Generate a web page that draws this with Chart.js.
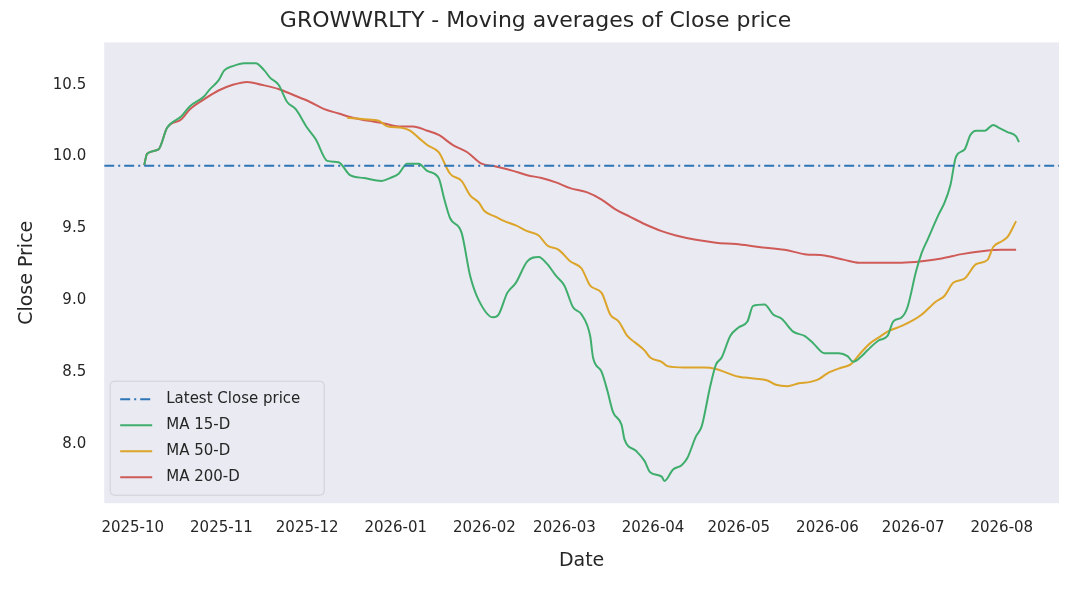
<!DOCTYPE html>
<html>
<head>
<meta charset="utf-8">
<script src="https://cdn.jsdelivr.net/npm/chart.js@4"></script>
<style>
  html, body { margin: 0; padding: 0; background: #fff; }
  #wrap { width: 1071px; height: 592px; }
</style>
</head>
<body>
<div id="wrap"><canvas id="c"></canvas></div>
<script>
// x values are days since 2025-10-01
const monthTicks = [0, 31, 61, 92, 123, 151, 182, 212, 243, 273, 304]
const monthLabels = ['2025-10', '2025-11', '2025-12', '2026-01', '2026-02', '2026-03',
  '2026-04', '2026-05', '2026-06', '2026-07', '2026-08']

const latestClose = 9.935

const ma15Days = [4,5,9,12,17,20,25,27,30,32,35,39,43,46,48,51,54,57,61,64,68,72,76,81,87,90,93,96,100,103,107,109,111,115,118,121,126,128,131,134,138,142,145,148,151,154,157,160,161,164,166,168,171,172,176,179,181,185,186,189,192,194,197,199,202,204,206,209,212,215,217,221,224,227,231,235,238,242,247,250,252,255,257,261,264,266,269,271,274,276,278,282,284,286,288,291,293,295,298,301,303,306,309,310]
const ma15Vals = [9.94,10.02,10.05,10.2,10.28,10.35,10.42,10.47,10.53,10.6,10.63,10.65,10.65,10.6,10.55,10.5,10.38,10.33,10.2,10.12,9.97,9.96,9.87,9.85,9.83,9.85,9.88,9.95,9.95,9.9,9.85,9.7,9.57,9.47,9.17,9.0,8.88,8.9,9.05,9.12,9.27,9.3,9.25,9.17,9.1,8.95,8.9,8.75,8.6,8.5,8.37,8.22,8.13,8.03,7.95,7.88,7.8,7.77,7.74,7.82,7.85,7.9,8.05,8.12,8.4,8.55,8.6,8.75,8.81,8.85,8.96,8.97,8.9,8.87,8.78,8.75,8.7,8.63,8.63,8.61,8.57,8.61,8.65,8.72,8.75,8.85,8.88,8.95,9.2,9.33,9.42,9.6,9.68,9.8,10.0,10.05,10.15,10.18,10.18,10.22,10.2,10.17,10.14,10.1]

const ma50Days = [75,81,86,89,94,97,100,103,107,111,115,118,121,123,127,130,134,138,142,145,149,153,157,160,164,167,170,173,176,179,181,185,187,193,200,204,207,211,214,219,222,225,229,233,237,240,243,248,251,255,258,261,264,269,273,276,281,284,287,291,295,299,301,304,306,309]
const ma50Vals = [10.27,10.26,10.25,10.21,10.2,10.18,10.13,10.08,10.03,9.88,9.83,9.73,9.68,9.62,9.58,9.55,9.52,9.48,9.45,9.38,9.35,9.27,9.22,9.1,9.05,8.9,8.85,8.75,8.7,8.65,8.6,8.57,8.54,8.53,8.53,8.52,8.5,8.47,8.46,8.45,8.44,8.41,8.4,8.42,8.43,8.45,8.49,8.53,8.55,8.64,8.7,8.74,8.78,8.82,8.86,8.9,8.99,9.03,9.12,9.15,9.25,9.28,9.37,9.41,9.44,9.55]

const ma200Days = [4,5,9,12,17,20,25,30,35,40,45,51,56,62,67,72,77,82,88,93,98,103,107,112,117,122,127,133,138,143,148,153,159,164,169,174,179,185,190,197,204,211,219,228,235,242,249,254,261,269,276,283,290,297,304,309]
const ma200Vals = [9.94,10.02,10.05,10.2,10.26,10.33,10.4,10.46,10.5,10.52,10.5,10.47,10.43,10.38,10.33,10.3,10.27,10.25,10.23,10.21,10.21,10.18,10.15,10.08,10.03,9.95,9.93,9.9,9.87,9.85,9.82,9.78,9.75,9.7,9.63,9.58,9.53,9.48,9.45,9.42,9.4,9.39,9.37,9.35,9.32,9.31,9.28,9.26,9.26,9.26,9.27,9.29,9.32,9.34,9.35,9.35]

const xMin = -10, xMax = 324

function zip(xs, ys) { return xs.map((x, i) => ({ x: x, y: ys[i] })) }

const legendInside = {
  id: 'legendInside',
  afterDraw(chart) {
    const ctx = chart.ctx
    const a = chart.chartArea
    const items = chart.data.datasets
    const x0 = a.left + 6, h = 26, w = 214
    const y0 = a.bottom - 8 - h * items.length - 10
    ctx.save()
    ctx.fillStyle = 'rgba(234,234,242,0.85)'
    ctx.strokeStyle = '#d0d0d8'
    ctx.lineWidth = 1
    ctx.beginPath()
    ctx.roundRect(x0, y0, w, h * items.length + 10, 4)
    ctx.fill(); ctx.stroke()
    ctx.font = '15px "DejaVu Sans"'
    ctx.textBaseline = 'middle'
    items.forEach((d, i) => {
      const y = y0 + 5 + h * i + h / 2
      ctx.strokeStyle = d.borderColor
      ctx.lineWidth = 2
      ctx.setLineDash(d.borderDash || [])
      ctx.beginPath(); ctx.moveTo(x0 + 10, y); ctx.lineTo(x0 + 42, y); ctx.stroke()
      ctx.setLineDash([])
      ctx.fillStyle = '#262626'
      ctx.fillText(d.label, x0 + 56, y)
    })
    ctx.restore()
  }
}

const bgPlugin = {
  id: 'bg',
  beforeDraw(chart) {
    const a = chart.chartArea
    chart.ctx.save()
    chart.ctx.fillStyle = '#eaeaf2'
    chart.ctx.fillRect(a.left, a.top, a.right - a.left, a.bottom - a.top)
    chart.ctx.restore()
  }
}

const lineOpts = { pointRadius: 0, borderWidth: 2, cubicInterpolationMode: 'monotone', fill: false }

new Chart(document.getElementById('c'), {
  type: 'line',
  data: {
    datasets: [
      { label: 'Latest Close price', data: [{ x: xMin, y: latestClose }, { x: xMax, y: latestClose }],
        borderColor: '#2e75b6', borderDash: [10, 4, 2, 4], pointRadius: 0, borderWidth: 2, tension: 0 },
      Object.assign({ label: 'MA 15-D', data: zip(ma15Days, ma15Vals), borderColor: '#3fae6c' }, lineOpts),
      Object.assign({ label: 'MA 50-D', data: zip(ma50Days, ma50Vals), borderColor: '#dca52a' }, lineOpts),
      Object.assign({ label: 'MA 200-D', data: zip(ma200Days, ma200Vals), borderColor: '#cf5b58' }, lineOpts)
    ]
  },
  options: {
    responsive: true,
    maintainAspectRatio: false,
    animation: false,
    layout: { padding: { left: 12, right: 12, top: 2, bottom: 16 } },
    plugins: {
      legend: { display: false },
      tooltip: { enabled: false },
      title: { display: true, text: 'GROWWRLTY - Moving averages of Close price',
        color: '#262626', font: { family: 'DejaVu Sans', size: 22, weight: 'normal' },
        padding: { top: 6, bottom: 8 } }
    },
    scales: {
      x: {
        type: 'linear', min: xMin, max: xMax,
        afterBuildTicks: (s) => { s.ticks = monthTicks.map(v => ({ value: v })) },
        ticks: { callback: (v) => monthLabels[monthTicks.indexOf(v)], color: '#262626',
          font: { family: 'DejaVu Sans', size: 15 }, maxRotation: 0, autoSkip: false, padding: 8 },
        grid: { display: false },
        border: { display: false },
        title: { display: true, text: 'Date', color: '#262626', font: { family: 'DejaVu Sans', size: 19 } }
      },
      y: {
        min: 7.585, max: 10.795,
        afterBuildTicks: (s) => { s.ticks = [8.0, 8.5, 9.0, 9.5, 10.0, 10.5].map(v => ({ value: v })) },
        ticks: { callback: (v) => v.toFixed(1), color: '#262626', font: { family: 'DejaVu Sans', size: 15 }, padding: 10 },
        grid: { display: false },
        border: { display: false },
        title: { display: true, text: 'Close Price', color: '#262626', font: { family: 'DejaVu Sans', size: 19 } }
      }
    }
  },
  plugins: [bgPlugin, legendInside]
})
</script>
</body>
</html>
